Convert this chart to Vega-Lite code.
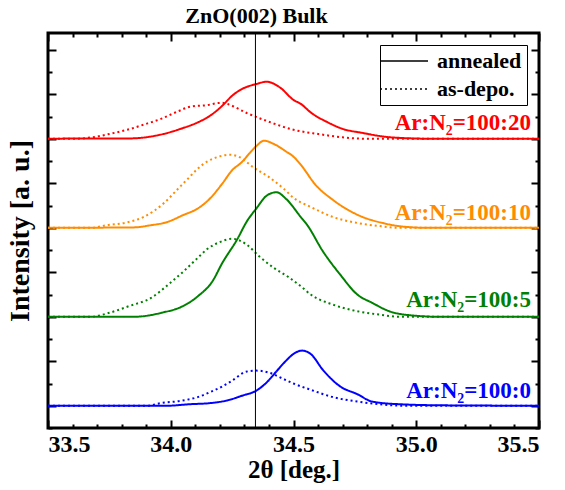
{
  "$schema": "https://vega.github.io/schema/vega-lite/v6.json",
  "width": 491,
  "height": 395,
  "autosize": {"type": "none"},
  "padding": {"left": 48, "top": 33, "right": 26, "bottom": 62},
  "config": {
    "view": {"stroke": "black", "strokeWidth": 3},
    "font": "Liberation Serif",
    "axis": {"domain": false, "grid": false, "tickColor": "black", "tickWidth": 2, "labelFont": "Liberation Serif", "labelFontWeight": "bold", "labelFontSize": 24, "labelColor": "black", "titleFont": "Liberation Serif", "titleFontWeight": "bold", "titleFontSize": 28, "titleColor": "black"}
  },
  "title": {"text": "ZnO(002) Bulk", "font": "Liberation Serif", "fontWeight": "bold", "fontSize": 22, "color": "black", "dx": -37, "offset": 4, "frame": "group"},
  "datasets": {
    "curves": [
      {"s":"100:20","t":"annealed","x":33.5,"y":12},{"s":"100:20","t":"annealed","x":33.65,"y":12.02},{"s":"100:20","t":"annealed","x":33.83,"y":12.02},{"s":"100:20","t":"annealed","x":33.97,"y":12.22},{"s":"100:20","t":"annealed","x":34.04,"y":12.45},{"s":"100:20","t":"annealed","x":34.11,"y":12.74},{"s":"100:20","t":"annealed","x":34.16,"y":13.04},{"s":"100:20","t":"annealed","x":34.21,"y":13.49},{"s":"100:20","t":"annealed","x":34.25,"y":13.94},{"s":"100:20","t":"annealed","x":34.29,"y":14.24},{"s":"100:20","t":"annealed","x":34.35,"y":14.47},{"s":"100:20","t":"annealed","x":34.39,"y":14.57},{"s":"100:20","t":"annealed","x":34.445,"y":14.31},{"s":"100:20","t":"annealed","x":34.5,"y":13.75},{"s":"100:20","t":"annealed","x":34.53,"y":13.57},{"s":"100:20","t":"annealed","x":34.57,"y":13.19},{"s":"100:20","t":"annealed","x":34.64,"y":12.74},{"s":"100:20","t":"annealed","x":34.7,"y":12.45},{"s":"100:20","t":"annealed","x":34.78,"y":12.27},{"s":"100:20","t":"annealed","x":34.87,"y":12.1},{"s":"100:20","t":"annealed","x":34.96,"y":12.03},{"s":"100:20","t":"annealed","x":35.1,"y":12.0},{"s":"100:20","t":"annealed","x":35.5,"y":12},
      {"s":"100:20","t":"as-depo.","x":33.5,"y":12},{"s":"100:20","t":"as-depo.","x":33.6,"y":12.0},{"s":"100:20","t":"as-depo.","x":33.68,"y":12.07},{"s":"100:20","t":"as-depo.","x":33.75,"y":12.22},{"s":"100:20","t":"as-depo.","x":33.82,"y":12.4},{"s":"100:20","t":"as-depo.","x":33.89,"y":12.64},{"s":"100:20","t":"as-depo.","x":33.96,"y":12.9},{"s":"100:20","t":"as-depo.","x":34.03,"y":13.24},{"s":"100:20","t":"as-depo.","x":34.08,"y":13.45},{"s":"100:20","t":"as-depo.","x":34.15,"y":13.52},{"s":"100:20","t":"as-depo.","x":34.19,"y":13.61},{"s":"100:20","t":"as-depo.","x":34.21,"y":13.62},{"s":"100:20","t":"as-depo.","x":34.23,"y":13.57},{"s":"100:20","t":"as-depo.","x":34.31,"y":13.16},{"s":"100:20","t":"as-depo.","x":34.39,"y":12.81},{"s":"100:20","t":"as-depo.","x":34.5,"y":12.41},{"s":"100:20","t":"as-depo.","x":34.6,"y":12.22},{"s":"100:20","t":"as-depo.","x":34.7,"y":12.07},{"s":"100:20","t":"as-depo.","x":34.81,"y":12.0},{"s":"100:20","t":"as-depo.","x":35.5,"y":12},
      {"s":"100:10","t":"annealed","x":33.5,"y":8},{"s":"100:10","t":"annealed","x":33.85,"y":8.02},{"s":"100:10","t":"annealed","x":33.92,"y":8.12},{"s":"100:10","t":"annealed","x":33.98,"y":8.24},{"s":"100:10","t":"annealed","x":34.05,"y":8.57},{"s":"100:10","t":"annealed","x":34.11,"y":8.87},{"s":"100:10","t":"annealed","x":34.16,"y":9.32},{"s":"100:10","t":"annealed","x":34.21,"y":9.99},{"s":"100:10","t":"annealed","x":34.25,"y":10.59},{"s":"100:10","t":"annealed","x":34.29,"y":10.96},{"s":"100:10","t":"annealed","x":34.32,"y":11.34},{"s":"100:10","t":"annealed","x":34.35,"y":11.69},{"s":"100:10","t":"annealed","x":34.38,"y":11.92},{"s":"100:10","t":"annealed","x":34.42,"y":11.77},{"s":"100:10","t":"annealed","x":34.47,"y":11.43},{"s":"100:10","t":"annealed","x":34.5,"y":11.2},{"s":"100:10","t":"annealed","x":34.53,"y":10.83},{"s":"100:10","t":"annealed","x":34.59,"y":9.93},{"s":"100:10","t":"annealed","x":34.66,"y":9.26},{"s":"100:10","t":"annealed","x":34.77,"y":8.54},{"s":"100:10","t":"annealed","x":34.87,"y":8.2},{"s":"100:10","t":"annealed","x":34.95,"y":8.05},{"s":"100:10","t":"annealed","x":35.05,"y":8.0},{"s":"100:10","t":"annealed","x":35.5,"y":8},
      {"s":"100:10","t":"as-depo.","x":33.5,"y":8},{"s":"100:10","t":"as-depo.","x":33.67,"y":8.0},{"s":"100:10","t":"as-depo.","x":33.74,"y":8.12},{"s":"100:10","t":"as-depo.","x":33.82,"y":8.24},{"s":"100:10","t":"as-depo.","x":33.89,"y":8.49},{"s":"100:10","t":"as-depo.","x":33.97,"y":9.09},{"s":"100:10","t":"as-depo.","x":34.03,"y":9.76},{"s":"100:10","t":"as-depo.","x":34.07,"y":10.21},{"s":"100:10","t":"as-depo.","x":34.11,"y":10.66},{"s":"100:10","t":"as-depo.","x":34.15,"y":10.99},{"s":"100:10","t":"as-depo.","x":34.19,"y":11.18},{"s":"100:10","t":"as-depo.","x":34.24,"y":11.29},{"s":"100:10","t":"as-depo.","x":34.28,"y":11.18},{"s":"100:10","t":"as-depo.","x":34.335,"y":10.73},{"s":"100:10","t":"as-depo.","x":34.4,"y":10.28},{"s":"100:10","t":"as-depo.","x":34.46,"y":9.76},{"s":"100:10","t":"as-depo.","x":34.5,"y":9.35},{"s":"100:10","t":"as-depo.","x":34.57,"y":8.94},{"s":"100:10","t":"as-depo.","x":34.66,"y":8.49},{"s":"100:10","t":"as-depo.","x":34.76,"y":8.22},{"s":"100:10","t":"as-depo.","x":34.85,"y":8.08},{"s":"100:10","t":"as-depo.","x":34.93,"y":8.0},{"s":"100:10","t":"as-depo.","x":35.5,"y":8},
      {"s":"100:5","t":"annealed","x":33.5,"y":4},{"s":"100:5","t":"annealed","x":33.85,"y":4.0},{"s":"100:5","t":"annealed","x":33.97,"y":4.2},{"s":"100:5","t":"annealed","x":34.04,"y":4.43},{"s":"100:5","t":"annealed","x":34.11,"y":4.92},{"s":"100:5","t":"annealed","x":34.17,"y":5.6},{"s":"100:5","t":"annealed","x":34.21,"y":6.42},{"s":"100:5","t":"annealed","x":34.27,"y":7.47},{"s":"100:5","t":"annealed","x":34.31,"y":8.29},{"s":"100:5","t":"annealed","x":34.35,"y":8.89},{"s":"100:5","t":"annealed","x":34.39,"y":9.44},{"s":"100:5","t":"annealed","x":34.43,"y":9.6},{"s":"100:5","t":"annealed","x":34.47,"y":9.3},{"s":"100:5","t":"annealed","x":34.53,"y":8.48},{"s":"100:5","t":"annealed","x":34.555,"y":8.14},{"s":"100:5","t":"annealed","x":34.62,"y":6.94},{"s":"100:5","t":"annealed","x":34.69,"y":5.9},{"s":"100:5","t":"annealed","x":34.76,"y":5.0},{"s":"100:5","t":"annealed","x":34.82,"y":4.63},{"s":"100:5","t":"annealed","x":34.89,"y":4.25},{"s":"100:5","t":"annealed","x":34.975,"y":4.07},{"s":"100:5","t":"annealed","x":35.1,"y":4.0},{"s":"100:5","t":"annealed","x":35.5,"y":4},
      {"s":"100:5","t":"as-depo.","x":33.5,"y":4},{"s":"100:5","t":"as-depo.","x":33.67,"y":4.0},{"s":"100:5","t":"as-depo.","x":33.75,"y":4.18},{"s":"100:5","t":"as-depo.","x":33.83,"y":4.48},{"s":"100:5","t":"as-depo.","x":33.92,"y":4.85},{"s":"100:5","t":"as-depo.","x":33.99,"y":5.45},{"s":"100:5","t":"as-depo.","x":34.05,"y":6.02},{"s":"100:5","t":"as-depo.","x":34.11,"y":6.65},{"s":"100:5","t":"as-depo.","x":34.15,"y":7.06},{"s":"100:5","t":"as-depo.","x":34.2,"y":7.36},{"s":"100:5","t":"as-depo.","x":34.25,"y":7.51},{"s":"100:5","t":"as-depo.","x":34.31,"y":7.24},{"s":"100:5","t":"as-depo.","x":34.36,"y":6.72},{"s":"100:5","t":"as-depo.","x":34.42,"y":6.2},{"s":"100:5","t":"as-depo.","x":34.48,"y":5.78},{"s":"100:5","t":"as-depo.","x":34.53,"y":5.37},{"s":"100:5","t":"as-depo.","x":34.57,"y":5.0},{"s":"100:5","t":"as-depo.","x":34.66,"y":4.55},{"s":"100:5","t":"as-depo.","x":34.76,"y":4.25},{"s":"100:5","t":"as-depo.","x":34.85,"y":4.1},{"s":"100:5","t":"as-depo.","x":34.93,"y":4.0},{"s":"100:5","t":"as-depo.","x":35.5,"y":4},
      {"s":"100:0","t":"annealed","x":33.5,"y":0},{"s":"100:0","t":"annealed","x":33.98,"y":0},{"s":"100:0","t":"annealed","x":34.08,"y":0.07},{"s":"100:0","t":"annealed","x":34.16,"y":0.12},{"s":"100:0","t":"annealed","x":34.23,"y":0.24},{"s":"100:0","t":"annealed","x":34.29,"y":0.45},{"s":"100:0","t":"annealed","x":34.35,"y":0.69},{"s":"100:0","t":"annealed","x":34.39,"y":1.04},{"s":"100:0","t":"annealed","x":34.43,"y":1.54},{"s":"100:0","t":"annealed","x":34.47,"y":2.03},{"s":"100:0","t":"annealed","x":34.5,"y":2.33},{"s":"100:0","t":"annealed","x":34.535,"y":2.48},{"s":"100:0","t":"annealed","x":34.57,"y":2.33},{"s":"100:0","t":"annealed","x":34.62,"y":1.61},{"s":"100:0","t":"annealed","x":34.69,"y":0.87},{"s":"100:0","t":"annealed","x":34.76,"y":0.52},{"s":"100:0","t":"annealed","x":34.82,"y":0.19},{"s":"100:0","t":"annealed","x":34.93,"y":0.07},{"s":"100:0","t":"annealed","x":35.1,"y":0.02},{"s":"100:0","t":"annealed","x":35.5,"y":0},
      {"s":"100:0","t":"as-depo.","x":33.5,"y":0},{"s":"100:0","t":"as-depo.","x":33.9,"y":0},{"s":"100:0","t":"as-depo.","x":33.96,"y":0.12},{"s":"100:0","t":"as-depo.","x":34.04,"y":0.22},{"s":"100:0","t":"as-depo.","x":34.11,"y":0.39},{"s":"100:0","t":"as-depo.","x":34.16,"y":0.61},{"s":"100:0","t":"as-depo.","x":34.21,"y":0.87},{"s":"100:0","t":"as-depo.","x":34.25,"y":1.13},{"s":"100:0","t":"as-depo.","x":34.31,"y":1.54},{"s":"100:0","t":"as-depo.","x":34.35,"y":1.58},{"s":"100:0","t":"as-depo.","x":34.4,"y":1.49},{"s":"100:0","t":"as-depo.","x":34.46,"y":1.2},{"s":"100:0","t":"as-depo.","x":34.5,"y":1.0},{"s":"100:0","t":"as-depo.","x":34.57,"y":0.72},{"s":"100:0","t":"as-depo.","x":34.66,"y":0.39},{"s":"100:0","t":"as-depo.","x":34.76,"y":0.19},{"s":"100:0","t":"as-depo.","x":34.85,"y":0.07},{"s":"100:0","t":"as-depo.","x":34.95,"y":0.0},{"s":"100:0","t":"as-depo.","x":35.5,"y":0}
    ],
    "labels": [
      {"s":"100:20","x":35.467,"y":12.38,"label":"Ar:N₂=100:20"},
      {"s":"100:10","x":35.467,"y":8.34,"label":"Ar:N₂=100:10"},
      {"s":"100:5","x":35.467,"y":4.43,"label":"Ar:N₂=100:5"},
      {"s":"100:0","x":35.467,"y":0.35,"label":"Ar:N₂=100:0"}
    ],
    "ref": [{"x": 34.345}]
  },
  "layer": [
    {
      "data": {"name": "curves"},
      "mark": {"type": "line", "strokeWidth": 2, "interpolate": "monotone"},
      "encoding": {
        "x": {"field": "x", "type": "quantitative", "scale": {"domain": [33.5, 35.5], "nice": false, "zero": false},
              "axis": {"orient": "bottom", "values": [33.5, 34, 34.5, 35, 35.5], "format": ".1f", "tickSize": -8, "labelPadding": 12, "title": "2θ [deg.]", "titleFontSize": 25, "titlePadding": 1}},
        "y": {"field": "y", "type": "quantitative", "scale": {"domain": [-1, 16.76], "nice": false, "zero": false},
              "axis": {"orient": "left", "values": [0, 2, 4, 6, 8, 10, 12, 14, 16], "tickSize": -8, "labels": false, "title": "Intensity [a. u.]", "titlePadding": 13}},
        "color": {"field": "s", "type": "nominal", "scale": {"domain": ["100:20", "100:10", "100:5", "100:0"], "range": ["#ff0000", "#ff8c00", "#008000", "#0000ff"]}, "legend": null},
        "strokeDash": {"field": "t", "type": "nominal", "scale": {"domain": ["annealed", "as-depo."], "range": [[1, 0], [2, 3]]},
              "legend": {"title": null, "orient": "top-right", "offset": 12, "strokeColor": "black", "fillColor": "white", "padding": 5, "symbolType": "M-3,0L3,0", "symbolSize": 256, "symbolStrokeColor": "black", "symbolStrokeWidth": 1.5, "symbolOffset": 8, "labelOffset": 22, "labelFont": "Liberation Serif", "labelFontWeight": "bold", "labelFontSize": 22, "labelColor": "black", "rowPadding": 6}}
      }
    },
    {
      "data": {"name": "labels"},
      "mark": {"type": "text", "align": "right", "baseline": "alphabetic", "font": "Liberation Serif", "fontWeight": "bold", "fontSize": 23},
      "encoding": {
        "x": {"field": "x", "type": "quantitative", "scale": {"domain": [33.5, 35.5], "nice": false, "zero": false},
              "axis": {"orient": "bottom", "values": [33.6, 33.7, 33.8, 33.9, 34.1, 34.2, 34.3, 34.4, 34.6, 34.7, 34.8, 34.9, 35.1, 35.2, 35.3, 35.4], "tickSize": -4, "labels": false, "title": null}},
        "y": {"field": "y", "type": "quantitative", "scale": {"domain": [-1, 16.76], "nice": false, "zero": false},
              "axis": {"orient": "left", "values": [-1, 1, 3, 5, 7, 9, 11, 13, 15], "tickSize": -4, "labels": false, "title": null}},
        "text": {"field": "label"},
        "color": {"field": "s", "type": "nominal"}
      }
    },
    {
      "data": {"name": "curves"},
      "mark": {"type": "point", "opacity": 0},
      "encoding": {
        "x": {"field": "x", "type": "quantitative", "scale": {"domain": [33.5, 35.5], "nice": false, "zero": false},
              "axis": {"orient": "top", "values": [33.5, 34, 34.5, 35, 35.5], "tickSize": -8, "labels": false, "title": null}},
        "y": {"field": "y", "type": "quantitative", "scale": {"domain": [-1, 16.76], "nice": false, "zero": false},
              "axis": {"orient": "right", "values": [0, 2, 4, 6, 8, 10, 12, 14, 16], "tickSize": -8, "labels": false, "title": null}}
      }
    },
    {
      "data": {"name": "curves"},
      "mark": {"type": "point", "opacity": 0},
      "encoding": {
        "x": {"field": "x", "type": "quantitative", "scale": {"domain": [33.5, 35.5], "nice": false, "zero": false},
              "axis": {"orient": "top", "values": [33.6, 33.7, 33.8, 33.9, 34.1, 34.2, 34.3, 34.4, 34.6, 34.7, 34.8, 34.9, 35.1, 35.2, 35.3, 35.4], "tickSize": -4, "labels": false, "title": null}},
        "y": {"field": "y", "type": "quantitative", "scale": {"domain": [-1, 16.76], "nice": false, "zero": false},
              "axis": {"orient": "right", "values": [-1, 1, 3, 5, 7, 9, 11, 13, 15], "tickSize": -4, "labels": false, "title": null}}
      }
    },
    {
      "data": {"name": "ref"},
      "mark": {"type": "rule", "color": "black", "strokeWidth": 1},
      "encoding": {
        "x": {"field": "x", "type": "quantitative", "scale": {"domain": [33.5, 35.5], "nice": false, "zero": false}, "axis": null}
      }
    }
  ],
  "resolve": {"scale": {"x": "independent", "y": "independent"}, "axis": {"x": "independent", "y": "independent"}}
}
